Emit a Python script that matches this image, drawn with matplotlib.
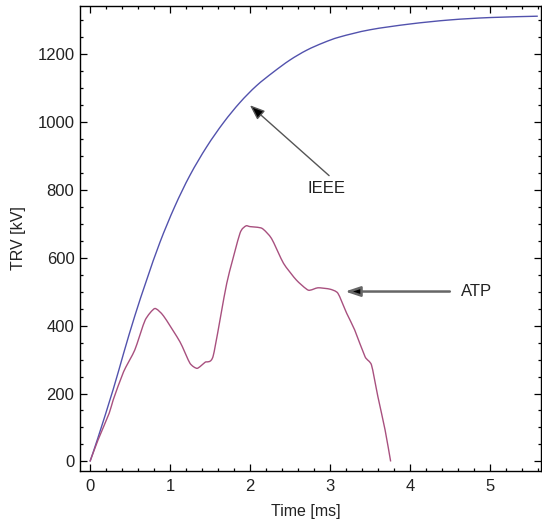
import matplotlib
matplotlib.use("Agg")
import matplotlib.pyplot as plt
from matplotlib.ticker import MultipleLocator
from matplotlib.path import Path
from matplotlib.patches import PathPatch

plt.rcParams['font.family'] = ['Liberation Sans', 'DejaVu Sans']

# IEEE TRV envelope (time in ms, TRV in kV)
ieee_t = [0, 0.1, 0.29, 0.42, 0.56, 0.71, 0.875, 1.06, 1.25, 1.46, 1.67, 1.875,
          2.08, 2.29, 2.5, 2.71, 2.92, 3.125, 3.5, 4.0, 4.5, 5.0, 5.6]
ieee_v = [0, 70, 212, 318, 428, 535, 645, 750, 842, 926, 997, 1056,
          1105, 1145, 1181, 1210, 1232, 1249, 1270, 1287, 1299, 1306, 1310]

# ATP simulated TRV
atp_t = [0, 0.10, 0.24, 0.29, 0.42, 0.56, 0.69, 0.81, 0.92, 1.125, 1.25, 1.34,
         1.44, 1.54, 1.71, 1.875, 1.95, 2.0, 2.15, 2.27, 2.42, 2.58, 2.73, 2.85,
         3.0, 3.10, 3.21, 3.31, 3.44, 3.52, 3.60, 3.69, 3.76]
atp_v = [0, 63, 142, 181, 264, 328, 416, 450, 428, 352, 289, 274,
         292, 310, 524, 671, 693, 691, 686, 656, 583, 534, 504, 511,
         507, 495, 436, 387, 308, 284, 191, 93, 0]

x_ticks = [0, 1, 2, 3, 4, 5]
y_ticks = [0, 200, 400, 600, 800, 1000, 1200]


def smooth_path(xs, ys, k=6.0):
    """Cardinal-spline curve through the data points, as a Bezier path."""
    pts = list(zip(xs, ys))
    n = len(pts)
    verts = [pts[0]]
    codes = [Path.MOVETO]
    for i in range(n - 1):
        p0 = pts[i - 1] if i > 0 else pts[i]
        p1 = pts[i]
        p2 = pts[i + 1]
        p3 = pts[i + 2] if i + 2 < n else pts[i + 1]
        c1 = (p1[0] + (p2[0] - p0[0]) / k, p1[1] + (p2[1] - p0[1]) / k)
        c2 = (p2[0] - (p3[0] - p1[0]) / k, p2[1] - (p3[1] - p1[1]) / k)
        verts += [c1, c2, p2]
        codes += [Path.CURVE4] * 3
    return Path(verts, codes)


fig = plt.figure(figsize=(5.42, 5.21), dpi=100)
ax = fig.add_axes([80 / 542, 50 / 521, 461 / 542, 465 / 521])

ax.add_patch(PathPatch(smooth_path(ieee_t, ieee_v), fill=False,
                       edgecolor='#5252ad', lw=1.0))
ax.add_patch(PathPatch(smooth_path(atp_t, atp_v, k=10.0), fill=False,
                       edgecolor='#a8507f', lw=1.0))

ax.set_xlim(-0.125, 5.64)
ax.set_ylim(-28, 1340)
ax.set_xticks(x_ticks)
ax.set_yticks(y_ticks)
ax.xaxis.set_minor_locator(MultipleLocator(0.2))
ax.yaxis.set_minor_locator(MultipleLocator(50))
ax.tick_params(which='both', direction='in', top=True, right=True,
               labelsize=12, colors='black', labelcolor='#222222', width=0.9)
ax.tick_params(which='major', length=5)
ax.tick_params(which='minor', length=2.5)
ax.tick_params(axis='x', pad=6)
ax.tick_params(axis='y', pad=4)
for s in ax.spines.values():
    s.set_linewidth(1.0)

ax.set_xlabel('Time [ms]', fontsize=11.5, color='#222222')
ax.set_ylabel('TRV [kV]', fontsize=11.5, color='#222222')
ax.xaxis.set_label_coords(0.49, -0.072)
ax.yaxis.set_label_coords(-0.118, 0.5)

ax.annotate('', xy=(2.0, 1048), xytext=(2.99, 841),
            arrowprops=dict(arrowstyle='-|>,head_length=0.9,head_width=0.35',
                            fc='black', ec='#555555', lw=1.0,
                            shrinkA=0, shrinkB=0))
ax.text(2.96, 804, 'IEEE', fontsize=12, ha='center', va='center', color='#222222')

ax.annotate('', xy=(3.19, 500), xytext=(4.5, 500),
            arrowprops=dict(arrowstyle='-|>,head_length=0.9,head_width=0.3',
                            fc='black', ec='#666666', lw=1.8,
                            shrinkA=0, shrinkB=0))
ax.text(4.84, 500, 'ATP', fontsize=12, ha='center', va='center', color='#222222')

fig.savefig('out.png', dpi=100)
